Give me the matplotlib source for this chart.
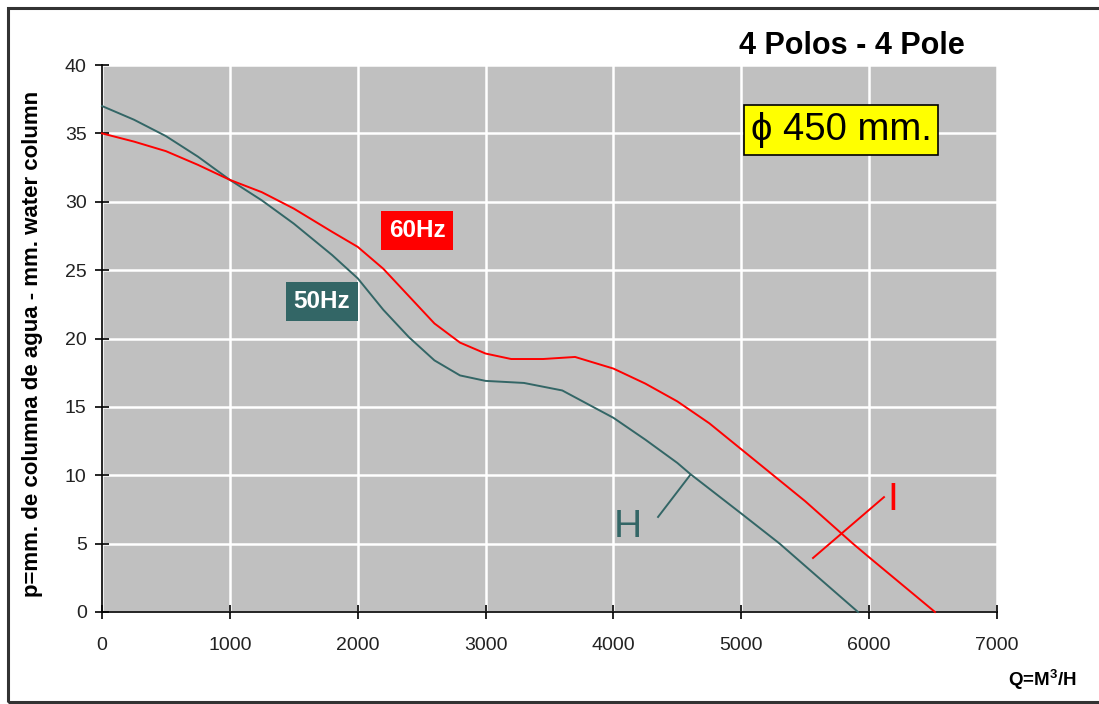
import matplotlib
matplotlib.use("Agg")
import matplotlib.pyplot as plt
from matplotlib.patches import Rectangle

plt.rcParams['font.family'] = ['Liberation Sans', 'DejaVu Sans']
plt.rcParams['mathtext.default'] = 'regular'

# Data (flow Q in m3/h, pressure in mm water column)
q_50 = [0, 250, 500, 750, 1000, 1250, 1500, 1800, 2000, 2200, 2400, 2600, 2800, 3000, 3300, 3600, 4000, 4250, 4500, 4600, 5000, 5300, 5600, 5913]
p_50 = [37.0, 36.0, 34.8, 33.3, 31.6, 30.1, 28.4, 26.1, 24.4, 22.1, 20.1, 18.4, 17.3, 16.9, 16.75, 16.2, 14.2, 12.6, 10.9, 10.1, 7.2, 5.0, 2.55, 0.0]

q_60 = [0, 250, 500, 750, 1000, 1250, 1500, 1800, 2000, 2200, 2400, 2600, 2800, 3000, 3200, 3450, 3700, 4000, 4250, 4500, 4750, 5000, 5500, 5873, 6000, 6515]
p_60 = [35.0, 34.4, 33.7, 32.7, 31.6, 30.7, 29.5, 27.8, 26.7, 25.1, 23.1, 21.1, 19.7, 18.9, 18.5, 18.5, 18.65, 17.8, 16.7, 15.4, 13.8, 11.9, 8.1, 5.0, 4.0, 0.0]

x_ticks = [0, 1000, 2000, 3000, 4000, 5000, 6000, 7000]
y_ticks = [0, 5, 10, 15, 20, 25, 30, 35, 40]

# Leader lines for the curve labels
h_leader_q = [4349, 4599]
h_leader_p = [6.95, 10.0]
i_leader_q = [5561, 6116]
i_leader_p = [3.95, 8.4]

TEAL = '#336666'
RED = '#FF0000'

fig = plt.figure(figsize=(10.99, 7.04), dpi=100)
fig.patch.set_facecolor('white')

# outer frame
fig.patches.append(Rectangle((8 / 1099, 2 / 704), 1.2, 1 - 8 / 704 - 2 / 704,
                             transform=fig.transFigure, fill=False,
                             edgecolor='#333333', linewidth=2.2))

ax = fig.add_axes([102 / 1099, 1 - 612 / 704, 895 / 1099, 547 / 704])
ax.set_facecolor('#C0C0C0')
ax.set_xlim(0, 7000)
ax.set_ylim(0, 40)
ax.set_xticks(x_ticks)
ax.set_yticks(y_ticks)
ax.grid(True, color='white', linewidth=1.8)
ax.set_axisbelow(True)
for s in ['top', 'right']:
    ax.spines[s].set_visible(False)
for s in ['left', 'bottom']:
    ax.spines[s].set_color('black')
    ax.spines[s].set_linewidth(1.2)
ax.tick_params(axis='both', direction='inout', length=10, width=1.2,
               labelsize=14, colors='black', labelcolor='#222222')
ax.tick_params(axis='y', pad=6)
ax.tick_params(axis='x', pad=13)

ax.plot(q_50, p_50, color=TEAL, linewidth=1.4, zorder=3, clip_on=False)
ax.plot(q_60, p_60, color=RED, linewidth=1.4, zorder=3, clip_on=False)

ax.plot(h_leader_q, h_leader_p, color=TEAL, linewidth=1.4, zorder=3)
ax.plot(i_leader_q, i_leader_p, color=RED, linewidth=1.4, zorder=3)

ax.text(4114, 6.2, 'H', color=TEAL, fontsize=28, ha='center', va='center', zorder=4)
ax.text(6187, 8.2, 'I', color=RED, fontsize=28, ha='center', va='center', zorder=4)

ax.text(2464, 27.9, '60Hz', color='white', fontsize=17.5, fontweight='bold',
        ha='center', va='center', zorder=5,
        bbox=dict(boxstyle='square,pad=0.33', facecolor=RED, edgecolor='none'))
ax.text(1720, 22.7, '50Hz', color='white', fontsize=17.5, fontweight='bold',
        ha='center', va='center', zorder=5,
        bbox=dict(boxstyle='square,pad=0.33', facecolor=TEAL, edgecolor='none'))

ax.text(5780, 35.25, 'ϕ 450 mm.', color='black', fontsize=27.5,
        ha='center', va='center', zorder=5,
        bbox=dict(boxstyle='square,pad=0.18', facecolor='#FFFF00',
                  edgecolor='black', linewidth=1.2))

fig.text(852 / 1099, 1 - 46 / 704, '4 Polos - 4 Pole', fontsize=22,
         fontweight='bold', ha='center', va='center')
fig.text(33 / 1099, 1 - 344 / 704, 'p=mm. de columna de agua - mm. water column',
         fontsize=16, fontweight='bold', rotation=90, ha='center', va='center')
fig.text(1042 / 1099, 1 - 680 / 704, 'Q=M$^{3}$/H', fontsize=13.5,
         fontweight='bold', ha='center', va='center')

fig.savefig('out.png', dpi=100)
